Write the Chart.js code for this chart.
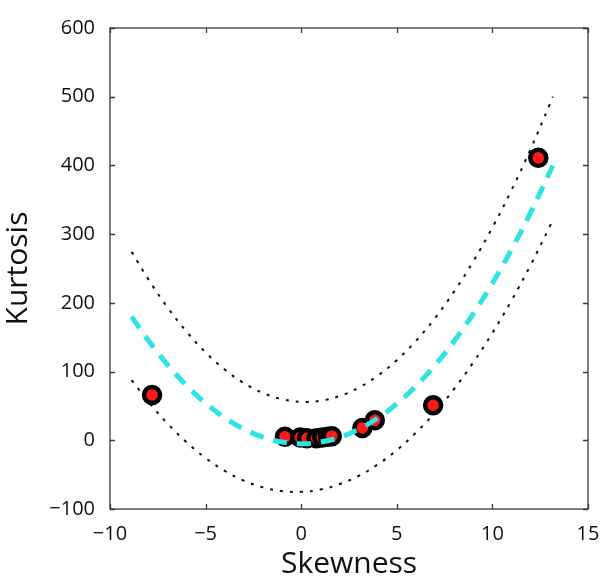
<!DOCTYPE html>
<html>
<head>
<meta charset="utf-8">
<script src="https://cdn.jsdelivr.net/npm/chart.js@4/dist/chart.umd.min.js"></script>
<style>
  html, body { margin: 0; padding: 0; background: #fff; }
  #wrap { width: 606px; height: 584px; }
</style>
</head>
<body>
<div id="wrap"><canvas id="c" width="606" height="584"></canvas></div>
<script>
// Observed data points (skewness, kurtosis)
const pointSkew = [-7.8, 12.4, 6.9, 3.85, 3.2, -0.85, -0.05, 0.3, 0.8, 1.1, 1.4, 1.6];
const pointKurt = [66, 411, 51, 29, 18, 5, 4, 3, 3, 4, 5, 6];

// Fitted curve (cyan dashed)
const fitX = [-8.87, -8, -7, -6, -5, -4, -3, -2, -1, 0, 1, 2, 3, 4, 5, 6, 7, 8, 9, 10, 11, 12, 13, 13.16];
const fitY = [180, 145.5, 110.3, 79.8, 53.9, 32.8, 16.3, 4.5, -2.6, -5, -2.7, 4.2, 15.9, 32.2, 53.2, 78.9, 109.3, 144.4, 184.2, 228.6, 277.7, 331.6, 390.1, 400];

// Upper and lower dotted bounds
const upperY = [274.4, 234.5, 193.7, 158.2, 127.9, 102.9, 83.2, 68.9, 59.8, 56, 57.5, 64.3, 76.4, 93.9, 116.6, 144.6, 177.9, 216.5, 260.4, 309.6, 364.1, 423.9, 489, 500];
const lowerY = [87.6, 56.3, 24.6, -2.8, -25.9, -44.5, -58.7, -68.5, -74, -75, -71.7, -63.9, -51.8, -35.3, -14.4, 11, 40.7, 74.7, 113.3, 156.1, 203.4, 255, 311.1, 320.4];

// Axis ticks
const xTicks = [-10, -5, 0, 5, 10, 15];
const yTicks = [-100, 0, 100, 200, 300, 400, 500, 600];

const toXY = (xs, ys) => xs.map((x, i) => ({ x: x, y: ys[i] }));

const boxPlugin = {
  id: 'boxTicks',
  afterDatasetsDraw(chart) {
    const { ctx, chartArea: a, scales: { x, y } } = chart;
    ctx.save();
    ctx.strokeStyle = '#3a3a3a';
    ctx.lineWidth = 1.3;
    ctx.strokeRect(a.left, a.top, a.right - a.left, a.bottom - a.top);
    const L = 5;
    ctx.beginPath();
    xTicks.forEach(v => {
      const px = Math.round(x.getPixelForValue(v)) + 0.5;
      ctx.moveTo(px, a.bottom); ctx.lineTo(px, a.bottom - L);
      ctx.moveTo(px, a.top); ctx.lineTo(px, a.top + L);
    });
    yTicks.forEach(v => {
      const py = Math.round(y.getPixelForValue(v)) + 0.5;
      ctx.moveTo(a.left, py); ctx.lineTo(a.left + L, py);
      ctx.moveTo(a.right, py); ctx.lineTo(a.right - L, py);
    });
    ctx.stroke();
    ctx.restore();
  }
};

const FONT = "'Open Sans', 'Liberation Sans', sans-serif";

new Chart(document.getElementById('c'), {
  type: 'scatter',
  data: {
    datasets: [
      {
        label: 'fit',
        data: toXY(fitX, fitY),
        showLine: true,
        borderColor: '#2ee3e3',
        borderWidth: 5,
        borderDash: [14, 10],
        pointRadius: 0,
        tension: 0.4,
        fill: false,
        order: 0
      },
      {
        label: 'upper',
        data: toXY(fitX, upperY),
        showLine: true,
        borderColor: '#111',
        borderWidth: 2,
        borderDash: [3, 7],
        pointRadius: 0,
        tension: 0.4,
        fill: false,
        order: 1
      },
      {
        label: 'lower',
        data: toXY(fitX, lowerY),
        showLine: true,
        borderColor: '#111',
        borderWidth: 2,
        borderDash: [3, 7],
        pointRadius: 0,
        tension: 0.4,
        fill: false,
        order: 1
      },
      {
        label: 'data',
        data: toXY(pointSkew, pointKurt),
        showLine: false,
        pointRadius: 8,
        pointBorderWidth: 4.5,
        pointBorderColor: '#000',
        pointBackgroundColor: '#ff1a1a',
        order: 2
      }
    ]
  },
  options: {
    responsive: false,
    animation: false,
    events: [],
    layout: { padding: { top: 28, right: 18, left: 0, bottom: 0 } },
    plugins: { legend: { display: false }, tooltip: { enabled: false } },
    scales: {
      x: {
        type: 'linear',
        min: -10, max: 15,
        afterBuildTicks: s => { s.ticks = xTicks.map(v => ({ value: v })); },
        afterFit: s => { s.height = 75; },
        grid: { display: false },
        border: { display: false },
        ticks: {
          color: '#111',
          padding: 5,
          maxRotation: 0,
          font: { family: FONT, size: 20 },
          callback: v => (v < 0 ? '\u2212' + Math.abs(v) : String(v))
        },
        title: {
          display: true,
          text: 'Skewness',
          color: '#111',
          font: { family: FONT, size: 30, lineHeight: 1.2 },
          padding: { top: 0, bottom: 2 }
        }
      },
      y: {
        type: 'linear',
        min: -100, max: 600,
        afterBuildTicks: s => { s.ticks = yTicks.map(v => ({ value: v })); },
        afterFit: s => { s.width = 110; },
        grid: { display: false },
        border: { display: false },
        ticks: {
          color: '#111',
          padding: 7,
          font: { family: FONT, size: 20 },
          callback: v => (v < 0 ? '\u2212' + Math.abs(v) : String(v))
        },
        title: {
          display: true,
          text: 'Kurtosis',
          color: '#111',
          font: { family: FONT, size: 30, lineHeight: 1.2 },
          padding: { top: 0, bottom: 0 }
        }
      }
    }
  },
  plugins: [boxPlugin]
});
</script>
</body>
</html>
